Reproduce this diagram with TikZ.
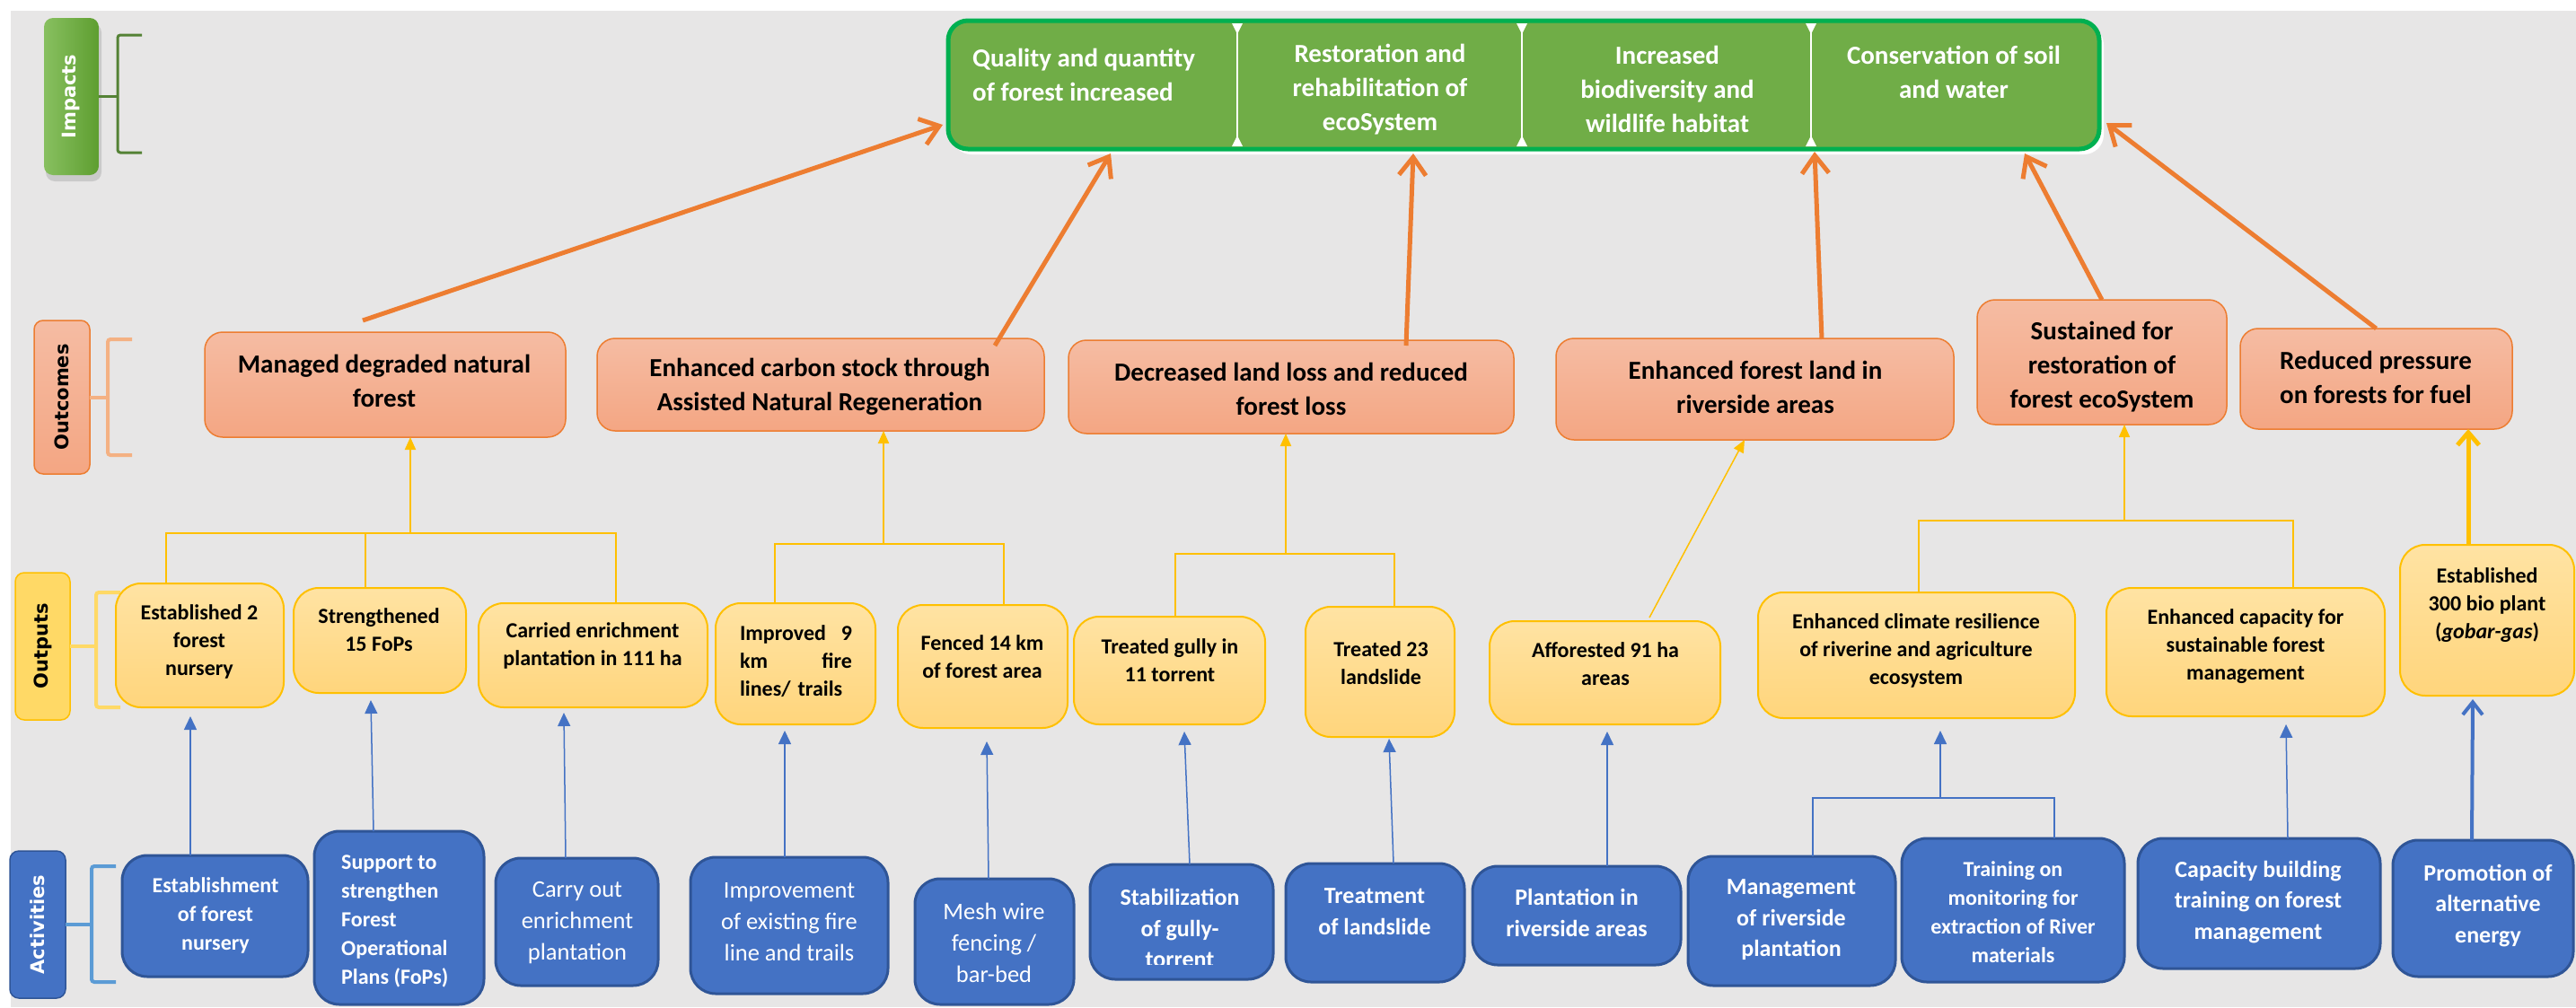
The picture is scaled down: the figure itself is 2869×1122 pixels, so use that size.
\documentclass[tikz,border=0pt]{standalone}
\usepackage{fontspec}
\setmainfont{Carlito}
\newfontfamily\labfont{DejaVu Sans}
\usetikzlibrary{arrows.meta,calc}
\definecolor{bggrey}{HTML}{E7E6E6}
\definecolor{impgreen}{HTML}{70AD47}
\definecolor{impborder}{HTML}{00B050}
\definecolor{darkgreen}{HTML}{548235}
\definecolor{orarrow}{HTML}{ED7D31}
\definecolor{outtop}{HTML}{F5BCA3}
\definecolor{outbot}{HTML}{F4A683}
\definecolor{yelborder}{HTML}{FFC000}
\definecolor{yeltop}{HTML}{FFE3A3}
\definecolor{yelbot}{HTML}{FFD57C}
\definecolor{actblue}{HTML}{4472C4}
\definecolor{actborder}{HTML}{2F5597}
\definecolor{lblue}{HTML}{5B9BD5}
\definecolor{salmonbr}{HTML}{F4B183}
\definecolor{yelbr}{HTML}{FFD966}
\definecolor{implt}{HTML}{88C060}
\definecolor{impdk}{HTML}{5E9E30}
\tikzset{
  boxbase/.style={inner sep=0pt, outer sep=0pt, anchor=north west},
  outcomebox/.style={boxbase, draw=orarrow, line width=1.5pt, rounded corners=20pt, top color=outtop, bottom color=outbot},
  outputbox/.style={boxbase, draw=yelborder, line width=2pt, rounded corners=28pt, top color=yeltop, bottom color=yelbot},
  actbox/.style={boxbase, draw=actborder, line width=3pt, rounded corners=28pt, fill=actblue},
  secbox/.style={boxbase, draw=none},
  itxt/.style={font=\bfseries\fontsize{29}{38}\selectfont, align=center, inner sep=0pt, text=white},
  otxt/.style={font=\bfseries\fontsize{29}{38}\selectfont, align=center, inner sep=0pt, text=black},
  ptxt/.style={font=\bfseries\fontsize{24}{31}\selectfont, align=center, inner sep=0pt, text=black},
  atxtb/.style={font=\bfseries\fontsize{26}{34.5}\selectfont, align=center, inner sep=0pt, text=white},
  atxts/.style={font=\bfseries\fontsize{24}{32}\selectfont, align=center, inner sep=0pt, text=white},
  atxtr/.style={font=\fontsize{26.5}{35}\selectfont, align=center, inner sep=0pt, text=white},
  labtxt/.style={rotate=90, font=\labfont\bfseries\fontsize{21}{21}\selectfont, inner sep=0pt},
  sidelab/.style={boxbase, rounded corners=10pt},
  oarrow/.style={draw=orarrow, line width=5pt, -{Straight Barb[length=20pt,width=30pt]}},
  yline/.style={draw=yelborder, line width=2pt},
  yarrow/.style={yline, -{Triangle[length=14pt,width=12pt]}},
  yarrowthick/.style={draw=yelborder, line width=5pt, -{Straight Barb[length=14pt,width=24pt]}},
  bline/.style={draw=actblue, line width=1.5pt},
  barrow/.style={bline, -{Triangle[length=15pt,width=14pt]}},
  barrowthick/.style={draw=actblue, line width=4pt, -{Straight Barb[length=14pt,width=22pt]}},
  brk/.style={line width=4pt, rounded corners=3pt}
}
\begin{document}
\begin{tikzpicture}[x=1pt,y=-1pt]
\useasboundingbox (0,0) rectangle (2869,1122);
\fill[white] (0,0) rectangle (2869,1122);
\fill[bggrey] (12,12) rectangle (2869,1122);

% ---------- side labels ----------
\fill[black, opacity=0.12, rounded corners=10pt] (51,26) rectangle (113,202);
\node[sidelab, left color=implt, right color=impdk, minimum width=61pt, minimum height=175pt] (limp) at (49,20) {};
\node[labtxt, text=white] (limpt) at (limp.center) {Impacts};
\draw[darkgreen, line width=3pt, rounded corners=3pt] (158,39) -- (131,39) -- (131,170) -- (158,170);
\draw[darkgreen, line width=3pt] (limp.east) -- (131,107.5);

\node[sidelab, draw=orarrow, line width=1.5pt, top color=outtop, bottom color=outbot, minimum width=62pt, minimum height=171pt] (lout) at (38,357) {};
\node[labtxt, text=black] (loutt) at (lout.center) {Outcomes};
\draw[salmonbr, brk] (147,378) -- (120,378) -- (120,507) -- (147,507);
\draw[salmonbr, line width=4pt] (lout.east) -- (120,442.5);

\node[sidelab, draw=yelborder, line width=1.5pt, fill=yelbr, minimum width=61pt, minimum height=164pt] (lput) at (17,638) {};
\node[labtxt, text=black] (lputt) at (lput.center) {Outputs};
\draw[yelbr, brk] (134,660) -- (107,660) -- (107,788) -- (134,788);
\draw[yelbr, line width=4pt] (lput.east) -- (107,720);

\node[sidelab, draw=actborder, line width=1.5pt, fill=actblue, minimum width=62pt, minimum height=164pt] (lact) at (11,948) {};
\node[labtxt, text=white] (lactt) at (lact.center) {Activities};
\draw[lblue, brk] (129,965) -- (102,965) -- (102,1094) -- (129,1094);
\draw[lblue, line width=4pt] (lact.east) -- (102,1030);

% ---------- impacts ----------
\fill[white, rounded corners=22pt] (1060,28) rectangle (2343,172);
\node[boxbase, fill=impgreen, draw=impborder, line width=5pt, rounded corners=22pt, minimum width=1282pt, minimum height=143pt] (imp) at (1056,23) {};
\node[secbox, minimum width=322pt, minimum height=143pt] (imp1) at (1056,23) {};
\node[secbox, minimum width=317pt, minimum height=143pt] (imp2) at (1378,23) {};
\node[secbox, minimum width=322pt, minimum height=143pt] (imp3) at (1695,23) {};
\node[secbox, minimum width=321pt, minimum height=143pt] (imp4) at (2017,23) {};
\foreach \s in {imp1,imp2,imp3}{
  \draw[white, line width=2.5pt] ([yshift=-4pt]\s.north east) -- ([yshift=4pt]\s.south east);
  \fill[white] ([xshift=-6pt,yshift=-3pt]\s.north east) -- ([xshift=6pt,yshift=-3pt]\s.north east) -- ([yshift=-15pt]\s.north east) -- cycle;
  \fill[white] ([xshift=-6pt,yshift=3pt]\s.south east) -- ([xshift=6pt,yshift=3pt]\s.south east) -- ([yshift=15pt]\s.south east) -- cycle;
}
\node[itxt, align=left, anchor=west] (imp1t) at (1083,83) {Quality and quantity\\of forest increased};
\node[itxt] (imp2t) at (1537,100) {Restoration and\\rehabilitation of\\ecoSystem};
\node[itxt] (imp3t) at (1857,99) {Increased\\biodiversity and\\wildlife habitat};
\node[itxt] (imp4t) at (2176,80.5) {Conservation of soil\\and water};

% ---------- outcomes ----------
\node[outcomebox, minimum width=402pt, minimum height=117pt] (o1) at (228,370) {};
\node[outcomebox, minimum width=498pt, minimum height=103pt] (o2) at (665,377) {};
\node[outcomebox, minimum width=496pt, minimum height=104pt] (o3) at (1190,379) {};
\node[outcomebox, minimum width=443pt, minimum height=113pt] (o4) at (1733,377) {};
\node[outcomebox, minimum width=278pt, minimum height=139pt] (o5) at (2202,334) {};
\node[outcomebox, minimum width=303pt, minimum height=112pt] (o6) at (2495,366) {};
\node[otxt] (o1t) at (428,424) {Managed degraded natural\\forest};
\node[otxt] (o2t) at (913,431) {Enhanced carbon stock through\\Assisted Natural Regeneration};
\node[otxt] (o3t) at (1438,433.5) {Decreased land loss and reduced\\forest loss};
\node[otxt] (o4t) at (1955,431.5) {Enhanced forest land in\\riverside areas};
\node[otxt] (o5t) at (2341,409) {Sustained for\\restoration of\\forest ecoSystem};
\node[otxt] (o6t) at (2646,420.5) {Reduced pressure\\on forests for fuel};

% ---------- outputs ----------
\node[outputbox, minimum width=187pt, minimum height=138pt] (p1) at (129,650) {};
\node[outputbox, minimum width=192pt, minimum height=117pt] (p2) at (327,655) {};
\node[outputbox, minimum width=255pt, minimum height=116pt] (p3) at (533,672) {};
\node[outputbox, minimum width=178pt, minimum height=135pt] (p4) at (797,672) {};
\node[outputbox, minimum width=189pt, minimum height=137pt] (p5) at (1000,674) {};
\node[outputbox, minimum width=213pt, minimum height=120pt] (p6) at (1196,687) {};
\node[outputbox, minimum width=166pt, minimum height=145pt] (p7) at (1454,676) {};
\node[outputbox, minimum width=257pt, minimum height=115pt] (p8) at (1659,692) {};
\node[outputbox, minimum width=353pt, minimum height=140pt] (p9) at (1958,660) {};
\node[outputbox, minimum width=310pt, minimum height=143pt] (p10) at (2346,655) {};
\node[outputbox, minimum width=194pt, minimum height=168pt] (p11) at (2673,607) {};
\node[ptxt] (p1t) at (222,715) {Established 2\\forest\\nursery};
\node[ptxt] (p2t) at (422,702) {Strengthened\\15 FoPs};
\node[ptxt] (p3t) at (660,719.5) {Carried enrichment\\plantation in 111 ha};
\node[ptxt, align=left, text width=125pt] (p4t) at (886.5,736.5) {Improved\hfill 9\\km\hfill fire\\lines/ trails};
\node[ptxt] (p5t) at (1094,732) {Fenced 14 km\\of forest area};
\node[ptxt] (p6t) at (1303,735.5) {Treated gully in\\11 torrent};
\node[ptxt] (p7t) at (1538,738.5) {Treated 23\\landslide};
\node[ptxt] (p8t) at (1788,739.5) {Afforested 91 ha\\areas};
\node[ptxt] (p9t) at (2134,725) {Enhanced climate resilience\\of riverine and agriculture\\ecosystem};
\node[ptxt] (p10t) at (2501,720.5) {Enhanced capacity for\\sustainable forest\\management};
\node[ptxt] (p11t) at (2770,674) {Established\\300 bio plant\\(\textit{gobar-gas})};

% ---------- activities ----------
\node[actbox, minimum width=207pt, minimum height=135pt] (a1) at (136,953) {};
\node[actbox, minimum width=189pt, minimum height=193pt] (a2) at (350,926) {};
\node[actbox, minimum width=181pt, minimum height=142pt] (a3) at (552,956) {};
\node[actbox, minimum width=220pt, minimum height=152pt] (a4) at (769,955) {};
\node[actbox, minimum width=177pt, minimum height=140pt] (a5) at (1019,979) {};
\node[actbox, minimum width=204pt, minimum height=128pt] (a6) at (1214,963) {};
\node[actbox, minimum width=199pt, minimum height=132pt] (a7) at (1432,962) {};
\node[actbox, minimum width=232pt, minimum height=110pt] (a8) at (1640,965) {};
\node[actbox, minimum width=231pt, minimum height=144pt] (a9) at (1880,954) {};
\node[actbox, minimum width=248pt, minimum height=160pt] (a10) at (2118,934) {};
\node[actbox, minimum width=270pt, minimum height=145pt] (a11) at (2381,934) {};
\node[actbox, minimum width=201pt, minimum height=152pt] (a12) at (2665,936) {};
\node[atxts] (a1t) at (240,1019.5) {Establishment\\of forest\\nursery};
\node[atxts, align=left, anchor=west] (a2t) at (380,1026.5) {Support to\\strengthen\\Forest\\Operational\\Plans (FoPs)};
\node[atxtr] (a3t) at (643,1028.5) {Carry out\\enrichment\\plantation};
\node[atxtr] (a4t) at (879,1027.5) {Improvement\\of existing fire\\line and trails};
\node[atxtr] (a5t) at (1107,1050) {Mesh wire\\fencing /\\bar-bed};
\begin{scope}
\clip (1214,963) rectangle (1418,1074);
\node[atxtb] (a6t) at (1314,1034) {Stabilization\\of gully-\\torrent};
\end{scope}
\node[atxtb] (a7t) at (1531,1015.5) {Treatment\\of landslide};
\node[atxtb] (a8t) at (1756,1017) {Plantation in\\riverside areas};
\node[atxtb] (a9t) at (1995,1025) {Management\\of riverside\\plantation};
\node[atxts] (a10t) at (2242,1016.5) {Training on\\monitoring for\\extraction of River\\materials};
\node[atxtb] (a11t) at (2515,1005) {Capacity building\\training on forest\\management};
\node[atxtb] (a12t) at (2771,1009) {Promotion of\\alternative\\energy};

% ---------- orange arrows: outcomes -> impacts ----------
\draw[oarrow] ([xshift=-25pt,yshift=13pt]o1.north) -- ([xshift=-6pt,yshift=-44.5pt]imp1.west);
\draw[oarrow] ([xshift=194pt,yshift=-8pt]o2.north) -- ([xshift=20pt,yshift=-5pt]imp1.south);
\draw[oarrow] ([xshift=128pt,yshift=-6pt]o3.north) -- ([xshift=37.5pt,yshift=-5pt]imp2.south);
\draw[oarrow] ([xshift=74.5pt,yshift=-1pt]o4.north) -- ([xshift=4pt,yshift=-3pt]imp4.south west);
\draw[oarrow] (o5.north) -- ([xshift=77.5pt,yshift=-5pt]imp4.south);
\draw[oarrow] (o6.north) -- ([xshift=8pt,yshift=-42.5pt]imp4.east);

% ---------- yellow connectors: outputs -> outcomes ----------
\coordinate (j1) at (457,594);
\draw[yline] ([xshift=-37.5pt]p1.north) |- (j1);
\draw[yline] ([xshift=-16pt]p2.north) |- (j1);
\draw[yline] ([xshift=25.5pt]p3.north) |- (j1);
\draw[yarrow] (j1) -- ([xshift=28pt]o1.south);
\coordinate (j2) at (984,606);
\draw[yline] ([xshift=-23pt]p4.north) |- (j2);
\draw[yline] ([xshift=23.5pt]p5.north) |- (j2);
\draw[yarrow] (j2) -- ([xshift=70pt]o2.south);
\coordinate (j3) at (1432,617);
\draw[yline] ([xshift=6.5pt]p6.north) |- (j3);
\draw[yline] ([xshift=16pt]p7.north) |- (j3);
\draw[yarrow] (j3) -- ([xshift=-6pt]o3.south);
\draw[yarrow, line width=1.5pt] ([xshift=49.5pt,yshift=4pt]p8.north) -- ([xshift=-11.5pt]o4.south);
\coordinate (j4) at (2366,580);
\draw[yline] ([xshift=2.5pt]p9.north) |- (j4);
\draw[yline] ([xshift=53pt]p10.north) |- (j4);
\draw[yarrow, line width=1.5pt] (j4) -- ([xshift=25pt]o5.south);
\draw[yarrowthick] ([xshift=-21pt]p11.north) -- ([xshift=102.5pt]o6.south);

% ---------- blue connectors: activities -> outputs ----------
\draw[barrow] ([xshift=-27.5pt]a1.north) -- ([xshift=-10.5pt,yshift=-10pt]p1.south);
\draw[barrow] ([xshift=-28.5pt]a2.north) -- ([xshift=-10pt,yshift=-8pt]p2.south);
\draw[barrow] ([xshift=-12.5pt]a3.north) -- ([xshift=-32.5pt,yshift=-6pt]p3.south);
\draw[barrow] ([xshift=-5pt]a4.north) -- ([xshift=-12pt,yshift=-7pt]p4.south);
\draw[barrow] ([xshift=-6.5pt]a5.north) -- ([xshift=4.5pt,yshift=-15pt]p5.south);
\draw[barrow] ([xshift=9pt]a6.north) -- ([xshift=16.5pt,yshift=-8pt]p6.south);
\draw[barrow] ([xshift=20.5pt]a7.north) -- ([xshift=10pt,yshift=-2pt]p7.south);
\draw[barrow] ([xshift=34pt]a8.north) -- ([xshift=2.5pt,yshift=-8pt]p8.south);
\coordinate (j5) at (2161,889);
\draw[bline] ([xshift=23.5pt]a9.north) |- (j5);
\draw[bline] ([xshift=46pt]a10.north) |- (j5);
\draw[barrow] (j5) -- ([xshift=26.5pt,yshift=-14pt]p9.south);
\draw[barrow] ([xshift=32pt]a11.north) -- ([xshift=45pt,yshift=-9pt]p10.south);
\draw[barrowthick] ([xshift=-12.5pt]a12.north) -- ([xshift=-16pt,yshift=-4pt]p11.south);
\end{tikzpicture}
\end{document}
